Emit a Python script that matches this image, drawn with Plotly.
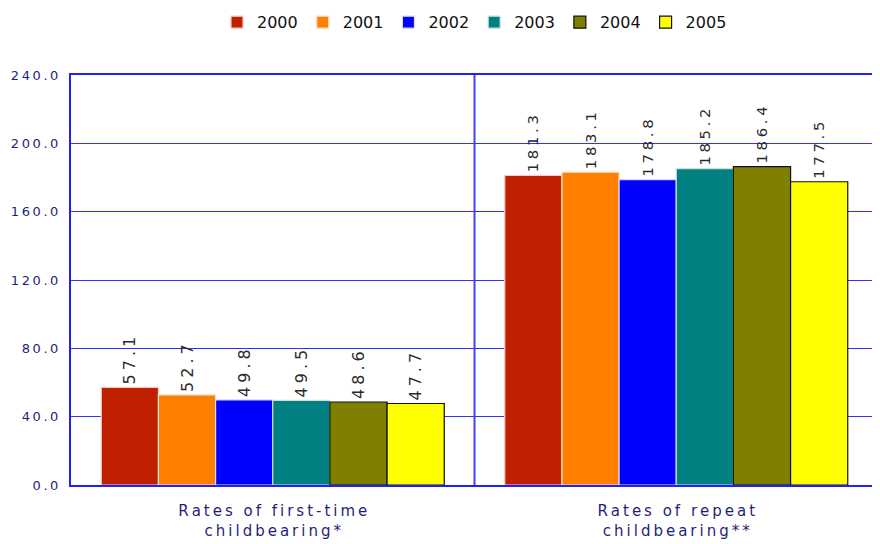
import plotly.graph_objects as go

categories = ["Rates of first-time<br>childbearing*", "Rates of repeat<br>childbearing**"]
years = ["2000", "2001", "2002", "2003", "2004", "2005"]
values = {
    "2000": [57.1, 181.3],
    "2001": [52.7, 183.1],
    "2002": [49.8, 178.8],
    "2003": [49.5, 185.2],
    "2004": [48.6, 186.4],
    "2005": [47.7, 177.5],
}
colors = ["#C02000", "#FF8000", "#0000FF", "#008080", "#808000", "#FFFF00"]
outlines = ["#F0D0C8", "#F8E0C8", "#D8D8FF", "#D0E0E0", "#101010", "#101010"]
tickvals = [0, 40, 80, 120, 160, 200, 240]

SP = "\u2009"
def spaced(s, sp=SP):
    return sp.join(list(s))

fig = go.Figure()
for y, c, oc in zip(years, colors, outlines):
    fig.add_trace(go.Bar(
        name=y, x=categories, y=values[y],
        marker=dict(color=c, line=dict(color=oc, width=1.2)),
        text=[spaced(f"{v:.1f}", "\u2005") for v in values[y]],
        textposition="outside", textangle=-90,
        textfont=dict(family="DejaVu Sans", size=16, color="#2A2A2A"),
        cliponaxis=False,
    ))

fig.add_shape(type="line", xref="x", yref="paper", x0=0.5, x1=0.5, y0=0, y1=1,
              line=dict(color="#4040FF", width=2))

def spaced_label(c):
    return "<br>".join(spaced(part) for part in c.split("<br>"))

fig.update_layout(
    width=872, height=536,
    margin=dict(l=63, r=2, t=67, b=59, autoexpand=False),
    paper_bgcolor="white", plot_bgcolor="white",
    barmode="group", bargap=0.15, bargroupgap=0.0,
    font=dict(family="DejaVu Sans", color="#1F1F7A"),
    legend=dict(orientation="h", x=0.5, xanchor="center", y=1.17, yref="paper",
                yanchor="top", font=dict(size=16, color="#111111"),
                itemwidth=30, tracegroupgap=0),
    xaxis=dict(showline=True, linecolor="#2020FF", linewidth=2, mirror=True,
               tickfont=dict(size=15, color="#1F1F7A"), ticks="",
               ticktext=[spaced_label(c) for c in categories],
               tickvals=categories, automargin=False, ticklabelstandoff=11),
    yaxis=dict(range=[0, 240], tickvals=tickvals,
               ticktext=[spaced(f"{v:.1f}") for v in tickvals],
               showline=True, linecolor="#2020FF", linewidth=2, mirror=True,
               showgrid=True, gridcolor="#3030FF", gridwidth=1,
               tickfont=dict(size=13, color="#1F1F7A"), ticks="", zeroline=False,
               automargin=False, ticklabelstandoff=8),
)

fig.write_html("out.html")
